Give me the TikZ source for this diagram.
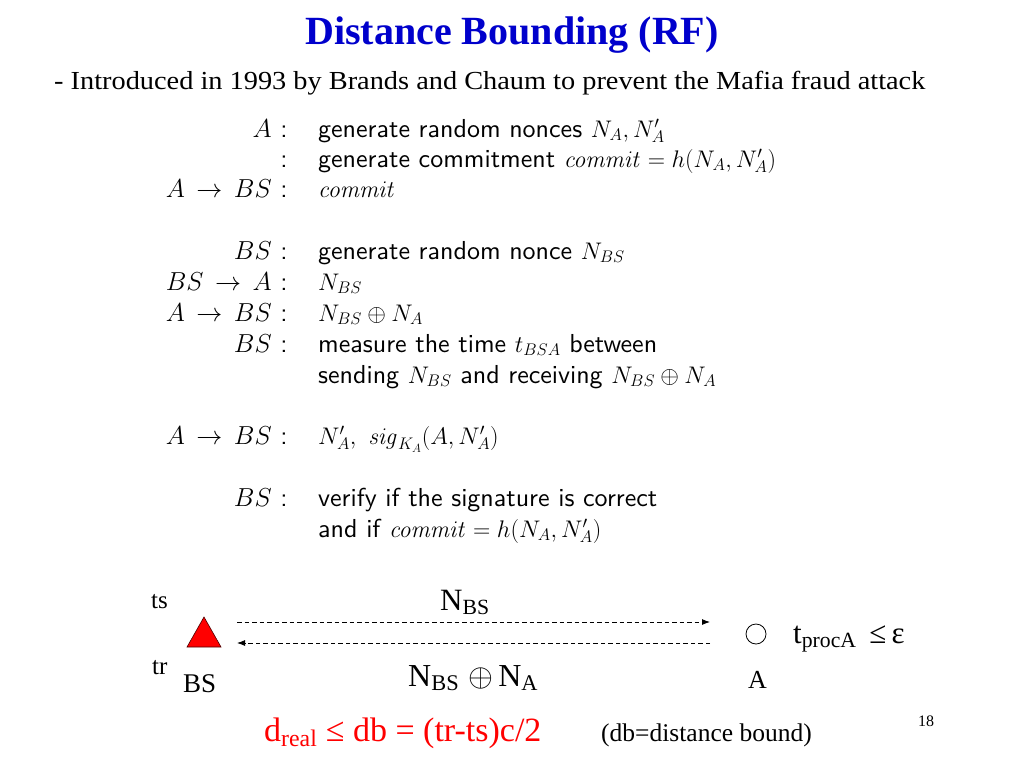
\RequirePackage{fix-cm}
\documentclass[tikz,border=0pt]{standalone}
\usepackage[no-math]{fontspec}
\setmainfont{Liberation Serif}
\newfontfamily\protsf[Extension=.otf]{lmsans10-regular}
\usetikzlibrary{arrows.meta}
\definecolor{titleblue}{RGB}{0,0,204}
\newcommand\protsize{\fontsize{26}{31}\selectfont}
\newcommand\mth[1]{{\fontsize{24}{29}\selectfont$#1$}}
\begin{document}
\begin{tikzpicture}[x=1pt,y=-1pt,
  lab/.style={inner sep=0pt,anchor=base east,font=\protsf\protsize},
  colon/.style={inner sep=0pt,anchor=base,font=\protsf\protsize},
  txt/.style={inner sep=0pt,anchor=base west,font=\protsf\protsize},
  serif/.style={inner sep=0pt,anchor=base west},
  dasharrow/.style={dash pattern=on 4.5pt off 3pt,line width=0.9pt,-{Latex[length=8pt,width=6pt]}}]
\useasboundingbox[fill=white] (0,0) rectangle (1024,768);
% title
\node[inner sep=0pt,anchor=base,text=titleblue,font=\bfseries\fontsize{40}{48}\selectfont] (title) at (512,45) {Distance Bounding (RF)};
\node[serif,font=\fontsize{26}{31}\selectfont] (sub) at (54,89) {\scalebox{1.09}[1]{- Introduced in 1993 by Brands and Chaum to prevent the Mafia fraud attack}};
% protocol
\node[lab] (l1) at (272,137) {$A$};
\node[colon] (c1) at (284,137) {:};
\node[txt] (t1) at (318,137) {generate random nonces \mth{N_A, N'_A}};
\node[colon] (c2) at (284,167) {:};
\node[txt] (t2) at (318,167) {generate commitment \mth{\mathit{commit} = h(N_A, N'_A)}};
\node[lab] (l3) at (272,197) {$A \mathrel{\,\rightarrow\,} BS$};
\node[colon] (c3) at (284,197) {:};
\node[txt] (t3) at (318,197) {\mth{\mathit{commit}}};
\node[lab] (l4) at (272,259) {$BS$};
\node[colon] (c4) at (284,259) {:};
\node[txt] (t4) at (318,259) {generate random nonce \mth{N_{BS}}};
\node[lab] (l5) at (272,290) {$BS \mathrel{\,\rightarrow\,} A$};
\node[colon] (c5) at (284,290) {:};
\node[txt] (t5) at (318,290) {\mth{N_{BS}}};
\node[lab] (l6) at (272,321) {$A \mathrel{\,\rightarrow\,} BS$};
\node[colon] (c6) at (284,321) {:};
\node[txt] (t6) at (318,321) {\mth{N_{BS} \oplus N_A}};
\node[lab] (l7) at (272,352) {$BS$};
\node[colon] (c7) at (284,352) {:};
\node[txt] (t7) at (318,352) {measure the time \mth{t_{BSA}} between};
\node[txt] (t8) at (318,383) {sending \mth{N_{BS}} and receiving \mth{N_{BS} \oplus N_A}};
\node[lab] (l9) at (272,444) {$A \mathrel{\,\rightarrow\,} BS$};
\node[colon] (c9) at (284,444) {:};
\node[txt] (t9) at (318,444) {\mth{N'_A,\ \mathit{sig}_{K_A}(A, N'_A)}};
\node[lab] (l10) at (272,506) {$BS$};
\node[colon] (c10) at (284,506) {:};
\node[txt] (t10) at (318,506) {verify if the signature is correct};
\node[txt] (t11) at (318,537) {and if \mth{\mathit{commit} = h(N_A, N'_A)}};
% bottom diagram
\node[serif,font=\fontsize{25}{29}\selectfont] (ts) at (151,608) {ts};
\node[serif,font=\fontsize{25}{29}\selectfont] (tr) at (152,674) {tr};
\node[serif,font=\fontsize{27}{31}\selectfont] (bsl) at (183,692) {BS};
\node[serif,font=\fontsize{31}{35}\selectfont] (nbs) at (440,610) {N\textsubscript{BS}};
\node[serif,font=\fontsize{32}{36}\selectfont] (nx) at (408,686) {N\textsubscript{BS}\;$\oplus$\,N\textsubscript{A}};
\node[serif,font=\fontsize{26}{30}\selectfont] (al) at (748,688) {A};
\node[serif,font=\fontsize{31}{35}\selectfont] (tp) at (793,643) {t\textsubscript{procA} \,≤\,ε};
\fill[red,draw=black!70!red,line width=0.6pt] (204,617) -- (221,647) -- (187,647) -- cycle;
\node[circle,draw=black,line width=0.8pt,minimum size=20pt,inner sep=0pt] (anode) at (756,634) {};
\coordinate (s1) at (237,622);
\coordinate (e1) at (710,622);
\coordinate (s2) at (710,643);
\coordinate (e2) at (237,643);
\draw[dasharrow] (s1) -- (e1);
\draw[dasharrow] (s2) -- (e2);
\node[serif,text=red,font=\fontsize{34}{38}\selectfont] (dreal) at (264,741) {d\textsubscript{real} ≤ db = (tr-ts)c/2};
\node[serif,font=\fontsize{25.5}{29}\selectfont] (dbnote) at (601,741) {(db=distance bound)};
\node[serif,font=\fontsize{16}{19}\selectfont] (pg) at (918,726) {18};
\end{tikzpicture}
\end{document}
